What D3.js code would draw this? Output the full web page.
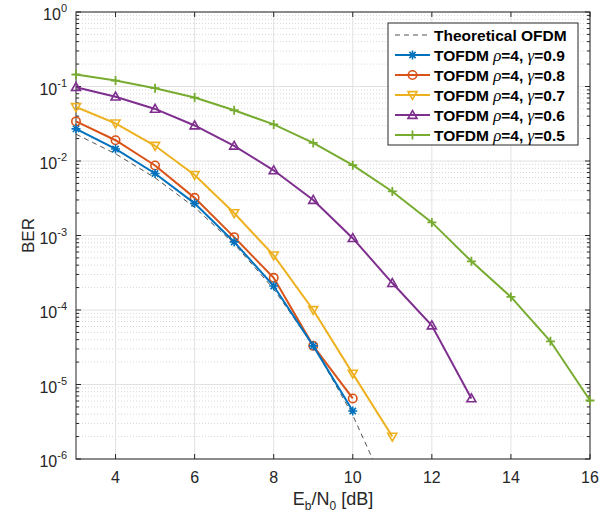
<!DOCTYPE html>
<html><head><meta charset="utf-8">
<script src="https://cdn.jsdelivr.net/npm/d3@7"></script>
<style>body{margin:0;background:#fff;} svg{display:block;font-family:"Liberation Sans",Arial,sans-serif;}</style>
</head><body>
<svg id="c" width="611" height="515"></svg>
<script>
const ebn0 = [3,4,5,6,7,8,9,10,11,12,13,14,15,16];
const theoryX = [3,4,5,6,7,8,9,10,11];
const theoryBER = [2.29e-2,1.25e-2,5.95e-3,2.39e-3,7.73e-4,1.91e-4,3.36e-5,3.87e-6,2.61e-7];
const ber09 = [0.027,0.0145,0.0068,0.0027,8.2e-4,2.1e-4,3.3e-5,4.4e-6];
const ber08 = [0.034,0.019,0.0087,0.0032,9.5e-4,2.7e-4,3.3e-5,6.5e-6];
const ber07 = [0.053,0.032,0.016,0.0065,0.002,5.4e-4,1.0e-4,1.4e-5,2.0e-6];
const ber06 = [0.098,0.073,0.05,0.03,0.016,0.0075,0.003,9.2e-4,2.3e-4,6.2e-5,6.5e-6];
const ber05 = [0.145,0.12,0.095,0.071,0.048,0.031,0.0175,0.0088,0.0039,0.0015,4.5e-4,1.5e-4,3.8e-5,6.1e-6];
const gammas = ["0.9","0.8","0.7","0.6","0.5"];
const xTicks = [4,6,8,10,12,14,16];
const yTicks = [0,-1,-2,-3,-4,-5,-6];

const series = [
  {g:gammas[0], v:ber09, color:"#0072BD", marker:"star"},
  {g:gammas[1], v:ber08, color:"#D95319", marker:"circle"},
  {g:gammas[2], v:ber07, color:"#EDB120", marker:"tdown"},
  {g:gammas[3], v:ber06, color:"#7E2F8E", marker:"tup"},
  {g:gammas[4], v:ber05, color:"#77AC30", marker:"plus"}
];

const svg = d3.select("#c");
const L=76, R=590, T=12, B=459;
const x = d3.scaleLinear().domain([3,16]).range([L,R]);
const y = d3.scaleLog().domain([1e-6,1]).range([B,T]);

svg.append("defs").append("clipPath").attr("id","clip").append("rect")
  .attr("x",L).attr("y",T).attr("width",R-L).attr("height",B-T);

const grid = svg.append("g");
for (let e=-6;e<0;e++){
  for (let m=2;m<=9;m++){
    const v=m*Math.pow(10,e);
    grid.append("line").attr("x1",L).attr("x2",R).attr("y1",y(v)).attr("y2",y(v))
      .attr("stroke","#d8d8d8").attr("stroke-width",1).attr("stroke-dasharray","1,2");
  }
}
yTicks.forEach(e=>{
  grid.append("line").attr("x1",L).attr("x2",R).attr("y1",y(Math.pow(10,e))).attr("y2",y(Math.pow(10,e)))
    .attr("stroke","#e2e2e2").attr("stroke-width",1);
});
xTicks.forEach(t=>{
  grid.append("line").attr("x1",x(t)).attr("x2",x(t)).attr("y1",T).attr("y2",B)
    .attr("stroke","#e2e2e2").attr("stroke-width",1);
});

const ax = svg.append("g").attr("stroke","#262626").attr("stroke-width",1).attr("fill","none");
ax.append("rect").attr("x",L).attr("y",T).attr("width",R-L).attr("height",B-T);
xTicks.forEach(t=>{
  ax.append("line").attr("x1",x(t)).attr("x2",x(t)).attr("y1",B).attr("y2",B-5);
  ax.append("line").attr("x1",x(t)).attr("x2",x(t)).attr("y1",T).attr("y2",T+5);
});
for (let e=-6;e<=0;e++){
  ax.append("line").attr("x1",L).attr("x2",L+5).attr("y1",y(Math.pow(10,e))).attr("y2",y(Math.pow(10,e)));
  ax.append("line").attr("x1",R).attr("x2",R-5).attr("y1",y(Math.pow(10,e))).attr("y2",y(Math.pow(10,e)));
  if(e<0) for(let m=2;m<=9;m++){
    const v=m*Math.pow(10,e);
    ax.append("line").attr("x1",L).attr("x2",L+3).attr("y1",y(v)).attr("y2",y(v));
    ax.append("line").attr("x1",R).attr("x2",R-3).attr("y1",y(v)).attr("y2",y(v));
  }
}

xTicks.forEach(t=>{
  svg.append("text").attr("x",x(t)).attr("y",B+24).attr("text-anchor","middle")
    .attr("font-size",16).attr("fill","#262626").text(t);
});
yTicks.forEach(e=>{
  const tx = svg.append("text").attr("x",L-9).attr("y",y(Math.pow(10,e))+8).attr("text-anchor","end")
    .attr("font-size",16).attr("fill","#262626");
  tx.append("tspan").text("10");
  tx.append("tspan").attr("dy",-8).attr("font-size",11).text(String(e));
});

const xl = svg.append("text").attr("x",(L+R)/2).attr("y",505).attr("text-anchor","middle")
  .attr("font-size",18).attr("fill","#262626");
xl.append("tspan").text("E");
xl.append("tspan").attr("dy",5).attr("font-size",12).text("b");
xl.append("tspan").attr("dy",-5).text("/N");
xl.append("tspan").attr("dy",5).attr("font-size",12).text("0");
xl.append("tspan").attr("dy",-5).text(" [dB]");
svg.append("text").attr("transform",`translate(34,${(T+B)/2}) rotate(-90)`).attr("text-anchor","middle")
  .attr("font-size",17).attr("fill","#262626").text("BER");

const plot = svg.append("g").attr("clip-path","url(#clip)");
const line = d3.line().x(d=>x(d[0])).y(d=>y(Math.max(d[1],1e-8)));
plot.append("path").datum(theoryX.map((t,i)=>[t,theoryBER[i]])).attr("d",line)
  .attr("fill","none").attr("stroke","#262626").attr("stroke-width",0.8).attr("stroke-dasharray","5,4");

function marker(g, type, cx, cy, color){
  const s=4.5;
  if(type==="circle") g.append("circle").attr("cx",cx).attr("cy",cy).attr("r",4.2).attr("fill","none").attr("stroke",color).attr("stroke-width",1.6);
  else if(type==="tdown") g.append("path").attr("d",`M${cx-s},${cy-s*0.75}L${cx+s},${cy-s*0.75}L${cx},${cy+s}Z`).attr("fill","none").attr("stroke",color).attr("stroke-width",1.6);
  else if(type==="tup") g.append("path").attr("d",`M${cx-s},${cy+s*0.75}L${cx+s},${cy+s*0.75}L${cx},${cy-s}Z`).attr("fill","none").attr("stroke",color).attr("stroke-width",1.6);
  else if(type==="plus") g.append("path").attr("d",`M${cx-s},${cy}L${cx+s},${cy}M${cx},${cy-s}L${cx},${cy+s}`).attr("stroke",color).attr("stroke-width",1.8);
  else if(type==="star") g.append("path").attr("d",`M${cx-s},${cy}L${cx+s},${cy}M${cx},${cy-s}L${cx},${cy+s}M${cx-s*0.7},${cy-s*0.7}L${cx+s*0.7},${cy+s*0.7}M${cx-s*0.7},${cy+s*0.7}L${cx+s*0.7},${cy-s*0.7}`).attr("stroke",color).attr("stroke-width",1.6);
}

const dataG = svg.append("g");
series.slice().reverse().forEach(s=>{
  const pts = s.v.map((v,i)=>[ebn0[i],v]);
  dataG.append("path").datum(pts).attr("d",line).attr("fill","none").attr("stroke",s.color).attr("stroke-width",2);
  pts.forEach(p=>marker(dataG,s.marker,x(p[0]),y(p[1]),s.color));
});

const lg = svg.append("g");
lg.append("rect").attr("x",388).attr("y",23).attr("width",190).attr("height",122)
  .attr("fill","#fff").attr("stroke","#262626").attr("stroke-width",1);
const rowY = i=>35+i*20;
lg.append("line").attr("x1",395).attr("x2",430).attr("y1",rowY(0)).attr("y2",rowY(0))
  .attr("stroke","#262626").attr("stroke-width",0.8).attr("stroke-dasharray","5,4");
lg.append("text").attr("x",434).attr("y",rowY(0)+5.5).attr("font-size",15.5).attr("font-weight","bold").attr("fill","#000").text("Theoretical OFDM");
series.forEach((s,i)=>{
  const yy=rowY(i+1);
  lg.append("line").attr("x1",395).attr("x2",430).attr("y1",yy).attr("y2",yy).attr("stroke",s.color).attr("stroke-width",2);
  marker(lg,s.marker,412.5,yy,s.color);
  const t=lg.append("text").attr("x",434).attr("y",yy+5.5).attr("font-size",15.5).attr("font-weight","bold").attr("fill","#000");
  t.append("tspan").text("TOFDM ");
  t.append("tspan").attr("font-family","'Liberation Serif',serif").attr("font-style","italic").attr("font-weight","normal").attr("font-size",17).text("ρ");
  t.append("tspan").text("=4, ");
  t.append("tspan").attr("font-family","'Liberation Serif',serif").attr("font-style","italic").attr("font-weight","normal").attr("font-size",17).text("γ");
  t.append("tspan").text("="+s.g);
});
</script>
</body></html>
